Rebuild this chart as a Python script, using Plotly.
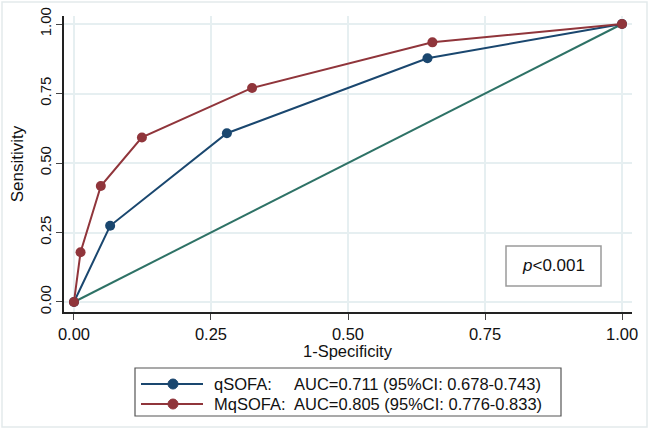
import plotly.graph_objects as go

# ROC coordinates
qsofa_fpr = [0.0, 0.066, 0.279, 0.645, 1.0]
qsofa_tpr = [0.0, 0.274, 0.607, 0.877, 1.0]
mqsofa_fpr = [0.0, 0.012, 0.049, 0.124, 0.325, 0.654, 1.0]
mqsofa_tpr = [0.0, 0.179, 0.417, 0.592, 0.770, 0.934, 1.0]
ref_x = [0.0, 1.0]
ref_y = [0.0, 1.0]

tick_vals = [0, 0.25, 0.5, 0.75, 1]
tick_text = ["0.00", "0.25", "0.50", "0.75", "1.00"]

x_title = "1-Specificity"
y_title = "Sensitivity"
legend_names = ["qSOFA:", "MqSOFA:"]
legend_auc = ["AUC=0.711 (95%CI: 0.678-0.743)", "AUC=0.805 (95%CI: 0.776-0.833)"]
p_text = "<i>p</i>&lt;0.001"

BLUE = "#1a476f"
RED = "#90353b"
GREEN = "#2e7266"
GRID = "#e6eff1"
FONT = "Liberation Sans, Arial, sans-serif"

W, H = 649, 429
L, R, T, B = 64, 17, 16, 117


def px(x):
    return (x - L) / (W - L - R)


def py(y):
    return (H - B - y) / (H - T - B)


fig = go.Figure()

fig.add_trace(go.Scatter(x=ref_x, y=ref_y, mode="lines",
                         line=dict(color=GREEN, width=2), showlegend=False))
fig.add_trace(go.Scatter(x=qsofa_fpr, y=qsofa_tpr, mode="lines+markers",
                         line=dict(color=BLUE, width=2),
                         marker=dict(color=BLUE, size=10), showlegend=False))
fig.add_trace(go.Scatter(x=mqsofa_fpr, y=mqsofa_tpr, mode="lines+markers",
                         line=dict(color=RED, width=2),
                         marker=dict(color=RED, size=10), showlegend=False))

shapes = []
# faint outer frame
shapes.append(dict(type="rect", xref="paper", yref="paper",
                   x0=px(2), x1=px(647), y0=py(2), y1=py(427),
                   line=dict(color="#e3eaec", width=1.5), layer="below"))
# p-value box
shapes.append(dict(type="rect", xref="paper", yref="paper",
                   x0=px(506), x1=px(601), y0=py(246), y1=py(286),
                   line=dict(color="#9a9a9a", width=1.5), fillcolor="white"))
# legend box
shapes.append(dict(type="rect", xref="paper", yref="paper",
                   x0=px(135), x1=px(561), y0=py(368), y1=py(416),
                   line=dict(color="#555555", width=1.2), fillcolor="white"))

annotations = [
    dict(xref="paper", yref="paper", x=px(553), y=py(265),
         xanchor="center", yanchor="middle", text=p_text, showarrow=False,
         font=dict(size=17, color="#111111", family=FONT)),
    dict(xref="paper", yref="paper", x=0.5, y=py(351),
         xanchor="center", yanchor="middle", text=x_title, showarrow=False,
         font=dict(size=16.5, color="#111111", family=FONT)),
]

rows = [384, 404]
colors = [BLUE, RED]
for i in range(2):
    yy = rows[i]
    shapes.append(dict(type="line", xref="paper", yref="paper",
                       x0=px(141), x1=px(203), y0=py(yy), y1=py(yy),
                       line=dict(color=colors[i], width=2)))
    shapes.append(dict(type="circle", xref="paper", yref="paper",
                       x0=px(168), x1=px(178), y0=py(yy - 5), y1=py(yy + 5),
                       line=dict(color=colors[i], width=1), fillcolor=colors[i]))
    annotations.append(dict(xref="paper", yref="paper", x=px(212), y=py(yy),
                            xanchor="left", yanchor="middle",
                            text=legend_names[i], showarrow=False,
                            font=dict(size=16.5, color="#111111", family=FONT)))
    annotations.append(dict(xref="paper", yref="paper", x=px(292), y=py(yy),
                            xanchor="left", yanchor="middle",
                            text=legend_auc[i], showarrow=False,
                            font=dict(size=16.5, color="#111111", family=FONT)))

axis_common = dict(
    tickvals=tick_vals, ticktext=tick_text,
    showgrid=True, gridcolor=GRID, gridwidth=1.5,
    zeroline=False, showline=True, linecolor="#222222", linewidth=1.5,
    ticks="outside", ticklen=6, tickcolor="#444444", tickwidth=1.2,
)

fig.update_layout(
    width=W, height=H,
    margin=dict(l=L, r=R, t=T, b=B),
    paper_bgcolor="white", plot_bgcolor="white",
    font=dict(family=FONT, color="#111111"),
    xaxis=dict(range=[-0.0182, 1.0182],
               tickfont=dict(size=16.5, color="#111111", family=FONT),
               automargin=False, **axis_common),
    yaxis=dict(range=[-0.036, 1.0288], tickangle=-90,
               tickfont=dict(size=15, color="#111111", family=FONT),
               title=dict(text=y_title, font=dict(size=17), standoff=9),
               automargin=False, ticklabelstandoff=-1, **axis_common),
    shapes=shapes,
    annotations=annotations,
)

# drop the browser's default page margin so the figure sits at the top-left
fig.write_html("out.html", config={"displayModeBar": False},
               post_script="document.body.style.margin='0px';")
